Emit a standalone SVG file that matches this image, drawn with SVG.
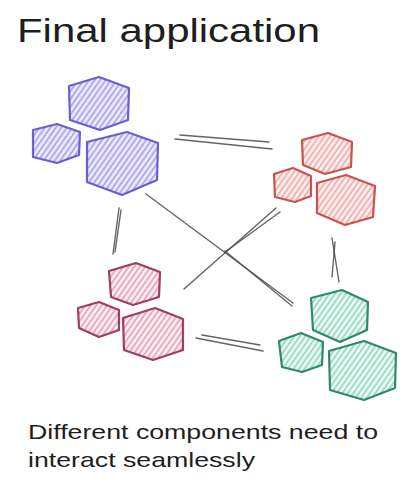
<svg xmlns="http://www.w3.org/2000/svg" width="414" height="490" viewBox="0 0 414 490">
<defs>
<pattern id="hp" width="4.5" height="4.5" patternUnits="userSpaceOnUse" patternTransform="rotate(35)"><rect width="4.5" height="4.5" fill="#eeecfc"/><line x1="2" y1="0" x2="2" y2="4.5" stroke="#a99ff0" stroke-width="1.7"/></pattern>
<pattern id="hr" width="4.5" height="4.5" patternUnits="userSpaceOnUse" patternTransform="rotate(35)"><rect width="4.5" height="4.5" fill="#fdf0f0"/><line x1="2" y1="0" x2="2" y2="4.5" stroke="#f0aaa8" stroke-width="1.7"/></pattern>
<pattern id="hk" width="4.5" height="4.5" patternUnits="userSpaceOnUse" patternTransform="rotate(35)"><rect width="4.5" height="4.5" fill="#fcf0f4"/><line x1="2" y1="0" x2="2" y2="4.5" stroke="#e3a0b9" stroke-width="1.7"/></pattern>
<pattern id="hg" width="4.5" height="4.5" patternUnits="userSpaceOnUse" patternTransform="rotate(35)"><rect width="4.5" height="4.5" fill="#eefaf5"/><line x1="2" y1="0" x2="2" y2="4.5" stroke="#8fd8be" stroke-width="1.7"/></pattern>
</defs>
<style>
.t{font-family:"Liberation Sans","DejaVu Sans",sans-serif;fill:#1e1e1e}
polygon{stroke-width:2.2;stroke-linejoin:round}
.p{fill:url(#hp);stroke:#6a5fcf}
.r{fill:url(#hr);stroke:#c9514f}
.k{fill:url(#hk);stroke:#a63a65}
.g{fill:url(#hg);stroke:#2e8a68}
.c line{stroke:#4a4a4a;stroke-width:1.4;stroke-linecap:round;opacity:.85}
</style>
<rect width="414" height="490" fill="#fff"/>
<text class="t" x="17" y="42" font-size="34" textLength="303" lengthAdjust="spacingAndGlyphs">Final application</text>
<g class="c" id="connectors">
<line x1="180" y1="135" x2="269" y2="142"/><line x1="175" y1="139" x2="272" y2="149"/>
<line x1="119" y1="208" x2="113" y2="254"/><line x1="121" y1="210" x2="115" y2="252"/>
<line x1="332" y1="238" x2="339" y2="282"/><line x1="335" y1="242" x2="332" y2="277"/>
<line x1="146" y1="194" x2="293" y2="303"/><line x1="225" y1="251" x2="292" y2="306"/>
<line x1="276" y1="208" x2="184" y2="289"/><line x1="280" y1="212" x2="225" y2="252"/>
<line x1="202" y1="335" x2="260" y2="345"/><line x1="196" y1="338" x2="263" y2="351"/>
</g>
<g id="purple">
<g id="purple-1"><polygon class="p" points="69,86 99,77 129,88 128,120 100,130 70,120"/></g>
<g id="purple-2"><polygon class="p" points="33,130 57,124 80,132 79,155 57,163 33,157"/></g>
<g id="purple-3"><polygon class="p" points="87,142 127,132 158,143 157,180 122,195 87,182"/></g>
</g>
<g id="red">
<g id="red-1"><polygon class="r" points="302,140 328,133 352,142 351,167 325,174 303,165"/></g>
<g id="red-2"><polygon class="r" points="274,174 293,168 311,176 311,196 295,202 275,197"/></g>
<g id="red-3"><polygon class="r" points="317,183 346,175 375,186 373,217 345,225 317,213"/></g>
</g>
<g id="pink">
<g id="pink-1"><polygon class="k" points="109,271 136,263 160,272 159,297 133,305 111,297"/></g>
<g id="pink-2"><polygon class="k" points="78,308 99,302 119,310 119,330 99,337 79,328"/></g>
<g id="pink-3"><polygon class="k" points="123,318 155,308 183,319 183,350 153,360 124,350"/></g>
</g>
<g id="green">
<g id="green-1"><polygon class="g" points="311,298 342,290 368,302 367,330 340,342 313,330"/></g>
<g id="green-2"><polygon class="g" points="279,341 301,333 323,342 322,365 302,372 282,367"/></g>
<g id="green-3"><polygon class="g" points="329,351 364,341 396,353 395,388 364,400 330,390"/></g>
</g>
<text class="t" x="28" y="439" font-size="21" textLength="350" lengthAdjust="spacingAndGlyphs">Different components need to</text>
<text class="t" x="28" y="467" font-size="21" textLength="227" lengthAdjust="spacingAndGlyphs">interact seamlessly</text>
</svg>
